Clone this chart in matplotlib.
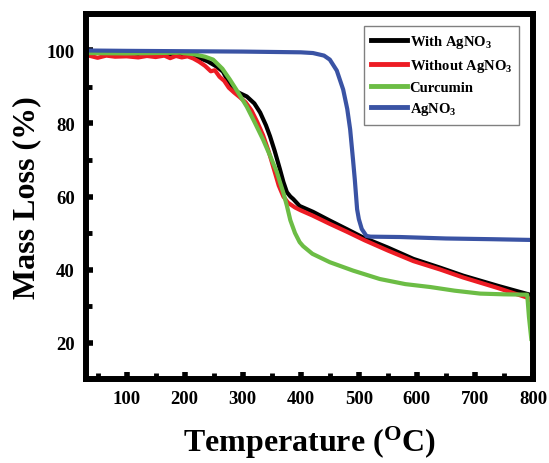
import matplotlib
matplotlib.use("Agg")
import matplotlib.pyplot as plt
from matplotlib.ticker import MultipleLocator

# -------------------- data --------------------
temp_with = [30, 60, 100, 150, 200, 220, 240, 255, 266, 275, 283, 295, 307, 320, 330,
             340, 347, 355, 364, 370, 376, 382, 387, 398, 421, 450, 480, 507, 550, 594,
             640, 680, 740, 790, 797]
mass_with = [99.8, 99.3, 99.1, 99.0, 98.9, 98.3, 97.0, 95.6, 94.2, 91.5, 89.3, 88.3, 87.4,
             85.5, 83.0, 79.5, 76.5, 72.5, 67.5, 64.0, 61.2, 60.0, 59.3, 57.4, 55.8, 53.4,
             51.0, 48.8, 46.0, 42.9, 40.5, 38.3, 35.5, 33.3, 33.0]

temp_without = [30, 40, 50, 65, 80, 100, 120, 135, 150, 165, 175, 185, 195, 205, 215, 225,
                235, 245, 252, 260, 268, 276, 285, 295, 305, 315, 325, 335, 345, 355, 362,
                370, 378, 390, 400, 420, 450, 480, 510, 550, 594, 640, 680, 740, 790, 797]
mass_without = [98.8, 98.4, 98.0, 98.6, 98.3, 98.4, 98.1, 98.5, 98.2, 98.6, 97.9, 98.5,
                98.1, 98.4, 97.8, 96.9, 95.8, 94.3, 94.6, 92.8, 91.7, 89.8, 88.5, 87.2,
                85.8, 83.6, 80.4, 76.8, 72.2, 66.8, 63.0, 60.0, 58.3, 57.0, 56.2, 54.8,
                52.5, 50.3, 48.0, 45.2, 42.3, 40.0, 37.8, 34.9, 32.3, 31.3]

temp_cur = [30, 100, 150, 192, 215, 235, 249, 265, 278, 292, 307, 320, 335, 347, 359, 364,
            370, 376, 382, 390, 398, 404, 420, 450, 490, 536, 580, 623, 665, 709, 750, 790,
            793, 797]
mass_cur = [99.3, 99.2, 99.3, 99.4, 99.0, 98.3, 97.5, 95.0, 92.0, 88.5, 84.6, 80.5, 75.6,
            71.2, 66.6, 64.0, 61.0, 57.5, 53.5, 50.0, 47.5, 46.4, 44.3, 42.0, 39.7, 37.4,
            36.0, 35.2, 34.2, 33.4, 33.2, 33.1, 27.0, 21.0]

temp_ag = [30, 100, 200, 300, 400, 421, 440, 450, 462, 473, 480, 485, 490, 493, 497, 500,
           505, 513, 520, 571, 650, 730, 797]
mass_ag = [100.0, 99.9, 99.8, 99.7, 99.5, 99.3, 98.6, 97.5, 94.5, 89.3, 84.0, 78.4, 70.0,
           64.7, 56.5, 53.8, 51.1, 49.2, 49.0, 48.9, 48.5, 48.3, 48.1]

labels = ['With AgNO$_3$', 'Without AgNO$_3$', 'Curcumin', 'AgNO$_3$']
colors = ['#000000', '#ed1c24', '#6cbd45', '#3a53a4']

# -------------------- style --------------------
plt.rcParams['font.family'] = 'Liberation Serif'
plt.rcParams['font.weight'] = 'bold'
plt.rcParams['mathtext.fontset'] = 'custom'
plt.rcParams['mathtext.rm'] = 'Liberation Serif:bold'
plt.rcParams['mathtext.bf'] = 'Liberation Serif:bold'
plt.rcParams['mathtext.default'] = 'bf'

fig = plt.figure(figsize=(5.49, 4.64), dpi=100)
ax = fig.add_axes([0.1566, 0.181, 0.8143, 0.7867])

series = [(temp_with, mass_with), (temp_without, mass_without),
          (temp_cur, mass_cur), (temp_ag, mass_ag)]
for (t, m), lab, c in zip(series, labels, colors):
    ax.plot(t, m, color=c, lw=3.0, label=lab, solid_joinstyle='round')

ax.set_xlim(30, 800)
ax.set_ylim(10, 110)
ax.xaxis.set_major_locator(MultipleLocator(100))
ax.xaxis.set_minor_locator(MultipleLocator(50))
ax.yaxis.set_major_locator(MultipleLocator(20))
ax.yaxis.set_minor_locator(MultipleLocator(10))
ax.set_yticks([20, 40, 60, 80, 100])

for s in ax.spines.values():
    s.set_linewidth(4.3)
ax.tick_params(which='major', direction='in', length=5, width=4, labelsize=13.5, pad=8)
ax.tick_params(which='minor', direction='in', length=4, width=3.5)

ax.set_xlabel('Temperature ($^{O}$C)', fontsize=23, fontweight='bold', labelpad=12)
ax.set_ylabel('Mass Loss (%)', fontsize=23, fontweight='bold', labelpad=4)

leg = ax.legend(loc='upper right', bbox_to_anchor=(0.969, 0.967), borderaxespad=0,
                fancybox=False, framealpha=1, edgecolor='#808080',
                handlelength=2.5, handletextpad=0.15, labelspacing=0.45,
                borderpad=0.5, prop={'weight': 'bold', 'size': 10.5})
leg.get_frame().set_linewidth(1.0)
for line in leg.get_lines():
    line.set_linewidth(3.5)

fig.savefig('out.png', dpi=100)
